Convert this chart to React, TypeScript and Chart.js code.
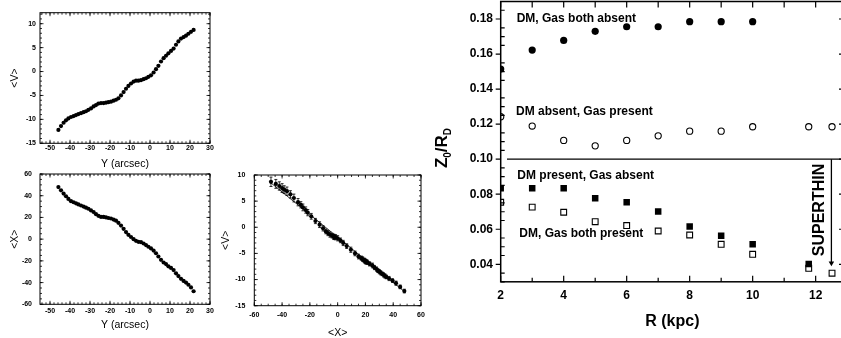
import React, { useEffect, useRef } from "react";
import { Chart, registerables } from "chart.js";

Chart.register(...registerables);

const FONT = "'Liberation Sans', Arial, Helvetica, sans-serif";

// ---------- Left panels: position along major axis Y (arcsec) ----------
const posY = [
  -45.8, -44.5, -43.2, -42, -40.8, -39.5, -38.2, -37, -35.8, -34.5,
  -33.2, -32, -30.8, -29.5, -28.2, -27, -25.8, -24.5, -23.2, -22,
  -20.8, -19.5, -18.2, -17, -15.8, -14.5, -13.2, -12, -10.8, -9.5,
  -8.2, -7, -5.8, -4.5, -3.2, -2, -0.8, 0.5, 1.8, 3,
  4.2, 5.5, 6.8, 8, 9.2, 10.5, 11.8, 13, 14.2, 15.5,
  16.8, 18, 19.2, 20.5, 21.8,
];
const meanV = [
  -12.2, -11.4, -10.7, -10.2, -9.8, -9.5, -9.3, -9.1, -8.9, -8.7,
  -8.5, -8.3, -8.0, -7.7, -7.3, -7.0, -6.7, -6.6, -6.6, -6.5,
  -6.4, -6.3, -6.1, -5.9, -5.6, -5.0, -4.3, -3.6, -3.0, -2.5,
  -2.1, -1.9, -1.9, -1.8, -1.6, -1.4, -1.1, -0.8, -0.2, 0.5,
  1.2, 2.1, 2.8, 3.3, 3.8, 4.3, 4.8, 5.6, 6.3, 6.9,
  7.2, 7.5, 7.9, 8.3, 8.7,
];
const meanX = [
  48, 45, 42, 39.5, 37, 35, 34, 33, 32, 31,
  30, 29, 28, 26.5, 25, 23, 21.5, 20.5, 20.5, 20,
  19.5, 19, 18, 17, 15, 12.5, 9.5, 6.5, 4, 2,
  0, -1.5, -2.5, -2.8, -4, -5.5, -7, -8.5, -10.5, -13,
  -16, -19, -21.5, -23, -25, -26.5, -28.5, -31.5, -34, -36.5,
  -38.5, -40, -42, -44.5, -48,
];
const errV = [
  0.35, 0.35, 0.4, 0.35, 0.4, 0.35, 0.4, 0.4, 0.35, 0.4,
  0.4, 0.35, 0.4, 0.4, 0.45, 0.4, 0.4, 0.45, 0.4, 0.4,
  0.45, 0.4, 0.45, 0.4, 0.45, 0.45, 0.5, 0.45, 0.5, 0.45,
  0.5, 0.5, 0.45, 0.5, 0.45, 0.5, 0.5, 0.45, 0.5, 0.55,
  0.5, 0.55, 0.6, 0.6, 0.65, 0.6, 0.7, 0.75, 0.7, 0.8,
  0.75, 0.85, 0.8, 0.85, 0.9,
];
const fitX = [-49, 49];
const fitV = [8.7, -12.5];

const p1XTicks = [-50, -40, -30, -20, -10, 0, 10, 20, 30];
const p1VTicks = [-15, -10, -5, 0, 5, 10];
const p2XTicks = [-60, -40, -20, 0, 20, 40, 60];
const p3XTicks = [-60, -40, -20, 0, 20, 40, 60];
const p3VTicks = [-15, -10, -5, 0, 5, 10];

// ---------- Right panel: Z0/RD vs R (kpc) ----------
const rBothAbsent = [2, 3, 4, 5, 6, 7, 8, 9, 10];
const zBothAbsent = [0.1514, 0.1623, 0.1678, 0.173, 0.1756, 0.1756, 0.1785, 0.1785, 0.1785];
const rGasOnly = [2, 3, 4, 5, 6, 7, 8, 9, 10, 11.78, 12.52];
const zGasOnly = [0.1242, 0.1189, 0.1107, 0.1076, 0.1107, 0.1133, 0.116, 0.116, 0.1185, 0.1185, 0.1185];
const rDmOnly = [2, 3, 4, 5, 6, 7, 8, 9, 10, 11.78];
const zDmOnly = [0.0834, 0.0834, 0.0834, 0.0777, 0.0754, 0.0701, 0.0615, 0.0563, 0.0514, 0.0402];
const rBothPresent = [2, 3, 4, 5, 6, 7, 8, 9, 10, 11.78, 12.52];
const zBothPresent = [0.0754, 0.0726, 0.0697, 0.0643, 0.0621, 0.059, 0.0567, 0.0514, 0.0457, 0.0377, 0.0349];
const sepR = [2.2, 12.9];
const sepZ = [0.1, 0.1];
const arrowR = [12.5, 12.5];
const arrowZ = [0.1, 0.0407];

const p4RTicks = [2, 4, 6, 8, 10, 12];
const p4ZTicks = [0.04, 0.06, 0.08, 0.1, 0.12, 0.14, 0.16, 0.18];

function range(a: number, b: number, step: number) {
  const out: number[] = [];
  for (let v = a; v <= b + 1e-9; v += step) out.push(+v.toFixed(6));
  return out;
}
const pts = (xs: number[], ys: number[]) => xs.map((x, i) => ({ x, y: ys[i] }));

// ---------- plugins ----------
const framePlugin = {
  id: "frameTicks",
  afterDraw(chart: any, _a: any, opts: any) {
    const { ctx, chartArea: a } = chart;
    const xs = chart.scales.x;
    const ys = chart.scales.y;
    ctx.save();
    ctx.strokeStyle = "#000";
    ctx.lineWidth = opts.frameWidth;
    ctx.strokeRect(a.left, a.top, a.right - a.left, a.bottom - a.top);
    ctx.lineWidth = opts.tickWidth;
    ctx.beginPath();
    for (const spec of opts.ticks) {
      for (const v of spec.values) {
        if (spec.side === "bottom" || spec.side === "top") {
          const p = xs.getPixelForValue(v);
          if (p < a.left - 0.5 || p > a.right + 0.5) continue;
          const base = spec.side === "bottom" ? a.bottom : a.top;
          const dir = spec.side === "bottom" ? -1 : 1;
          ctx.moveTo(p, base - dir * spec.out);
          ctx.lineTo(p, base + dir * spec.in);
        } else {
          const p = ys.getPixelForValue(v);
          if (p < a.top - 0.5 || p > a.bottom + 0.5) continue;
          const base = spec.side === "left" ? a.left : a.right;
          const dir = spec.side === "left" ? 1 : -1;
          ctx.moveTo(base - dir * spec.out, p);
          ctx.lineTo(base + dir * spec.in, p);
        }
      }
    }
    ctx.stroke();
    ctx.restore();
  },
};

const errorBarPlugin = {
  id: "errorBars",
  beforeDatasetsDraw(chart: any) {
    const { ctx } = chart;
    const ys = chart.scales.y;
    const meta = chart.getDatasetMeta(0);
    ctx.save();
    ctx.strokeStyle = "#000";
    ctx.lineWidth = 0.8;
    ctx.beginPath();
    meta.data.forEach((pt: any, i: number) => {
      const v = meanV[i];
      const e = errV[i];
      const y1 = ys.getPixelForValue(v + e);
      const y2 = ys.getPixelForValue(v - e);
      ctx.moveTo(pt.x, y1);
      ctx.lineTo(pt.x, y2);
      ctx.moveTo(pt.x - 1.5, y1);
      ctx.lineTo(pt.x + 1.5, y1);
      ctx.moveTo(pt.x - 1.5, y2);
      ctx.lineTo(pt.x + 1.5, y2);
    });
    ctx.stroke();
    ctx.restore();
  },
};

const annotatePlugin = {
  id: "annotate",
  afterDraw(chart: any) {
    const { ctx } = chart;
    ctx.save();
    ctx.fillStyle = "#000";
    ctx.textBaseline = "middle";
    ctx.textAlign = "left";
    ctx.font = `bold 12px ${FONT}`;
    ctx.fillText("DM, Gas both absent", 96.7, 18.3);
    ctx.fillText("DM absent, Gas present", 96, 112);
    ctx.fillText("DM present, Gas absent", 97.3, 175.3);
    ctx.fillText("DM, Gas both present", 99.3, 233.3);

    // SUPERTHIN (vertical)
    ctx.save();
    ctx.translate(399.5, 210);
    ctx.rotate(-Math.PI / 2);
    ctx.textAlign = "center";
    ctx.font = `bold 16px ${FONT}`;
    ctx.fillText("SUPERTHIN", 0, 0);
    ctx.restore();

    // Y axis title Z0/RD with subscripts
    ctx.save();
    ctx.translate(22, 148);
    ctx.rotate(-Math.PI / 2);
    const big = `bold 17px ${FONT}`;
    const small = `bold 10px ${FONT}`;
    const parts: [string, string, number][] = [
      ["Z", big, 0],
      ["0", small, 6],
      ["/R", big, 0],
      ["D", small, 6],
    ];
    let total = 0;
    for (const [t, f] of parts) {
      ctx.font = f;
      total += ctx.measureText(t).width;
    }
    let x = -total / 2;
    ctx.textAlign = "left";
    for (const [t, f, dy] of parts) {
      ctx.font = f;
      ctx.fillText(t, x, dy);
      x += ctx.measureText(t).width;
    }
    ctx.restore();
    ctx.restore();
  },
};

// ---------- helpers ----------
function axis(o: {
  min: number; max: number; size: number; ticks: number[]; pad: number;
  font: any; fmt?: (v: number) => string; title?: string; titleFont?: any; titlePad?: any;
}) {
  return {
    type: "linear",
    min: o.min,
    max: o.max,
    afterFit(s: any) {
      if (s.isHorizontal()) s.height = o.size;
      else s.width = o.size;
      s.paddingLeft = 0;
      s.paddingRight = 0;
      s.paddingTop = 0;
      s.paddingBottom = 0;
    },
    afterBuildTicks(s: any) {
      s.ticks = o.ticks.map((v) => ({ value: v }));
    },
    grid: { display: false, drawTicks: false },
    border: { display: false },
    ticks: {
      font: o.font,
      color: "#000",
      padding: o.pad,
      autoSkip: false,
      maxRotation: 0,
      minRotation: 0,
      callback: (v: number) => (o.fmt ? o.fmt(v) : String(v)),
    },
    title: o.title
      ? { display: true, text: o.title, color: "#000", font: o.titleFont, padding: o.titlePad }
      : { display: false },
  };
}

function baseOptions(padding: any, frame: any, scales: any) {
  return {
    responsive: false,
    animation: false,
    devicePixelRatio: 1,
    events: [],
    layout: { autoPadding: false, padding },
    plugins: { legend: { display: false }, tooltip: { enabled: false }, frameTicks: frame },
    scales,
  };
}

const smallTick = { size: 7, weight: "bold", family: FONT };
const smallTitle = { size: 10.5, family: FONT };

function smallFrame(xMajor: number[], xMinor: number[], yMajor: number[], yMinor: number[]) {
  return {
    frameWidth: 1,
    tickWidth: 0.8,
    ticks: [
      { side: "bottom", values: xMajor, in: 3.5, out: 0 },
      { side: "bottom", values: xMinor, in: 2, out: 0 },
      { side: "top", values: xMajor, in: 3.5, out: 0 },
      { side: "top", values: xMinor, in: 2, out: 0 },
      { side: "left", values: yMajor, in: 3.5, out: 0 },
      { side: "left", values: yMinor, in: 2, out: 0 },
      { side: "right", values: yMajor, in: 3.5, out: 0 },
      { side: "right", values: yMinor, in: 2, out: 0 },
    ],
  };
}

function dotSet(data: any[]) {
  return {
    data,
    pointRadius: 2.1,
    pointBackgroundColor: "#000",
    pointBorderWidth: 0,
    showLine: false,
    clip: 0,
  };
}

function config1(): any {
  return {
    type: "scatter",
    data: { datasets: [dotSet(pts(posY, meanV))] },
    options: baseOptions(
      { top: 12.7, right: 10, left: 0, bottom: 0 },
      smallFrame(p1XTicks, range(-54, 30, 2), p1VTicks, range(-15, 12, 1)),
      {
        x: axis({ min: -55, max: 30, size: 28.7, ticks: p1XTicks, pad: 1, font: smallTick,
          title: "Y (arcsec)", titleFont: smallTitle, titlePad: { top: 0, bottom: 1.5 } }),
        y: axis({ min: -15, max: 12.3, size: 40, ticks: p1VTicks, pad: 4, font: smallTick,
          title: "<V>", titleFont: smallTitle, titlePad: { top: 8.5, bottom: 0 } }),
      }
    ),
  };
}

function config2(): any {
  return {
    type: "scatter",
    data: { datasets: [dotSet(pts(posY, meanX))] },
    options: baseOptions(
      { top: 14, right: 10, left: 0, bottom: 0 },
      smallFrame(p1XTicks, range(-54, 30, 2), p2XTicks, range(-60, 60, 5)),
      {
        x: axis({ min: -55, max: 30, size: 33.7, ticks: p1XTicks, pad: 3, font: smallTick,
          title: "Y (arcsec)", titleFont: smallTitle, titlePad: { top: 0, bottom: 7 } }),
        y: axis({ min: -60, max: 60, size: 40, ticks: p2XTicks, pad: 8, font: smallTick,
          title: "<X>", titleFont: smallTitle, titlePad: { top: 8.5, bottom: 0 } }),
      }
    ),
  };
}

function config3(): any {
  return {
    type: "scatter",
    data: {
      datasets: [
        dotSet(pts(meanX, meanV)),
        {
          data: pts(fitX, fitV),
          showLine: true,
          borderColor: "#000",
          borderWidth: 0.8,
          pointRadius: 0,
          clip: 0,
        },
      ],
    },
    options: baseOptions(
      { top: 15, right: 29, left: 0, bottom: 0 },
      smallFrame(p3XTicks, range(-60, 60, 5), p3VTicks, range(-15, 10, 1)),
      {
        x: axis({ min: -60, max: 60, size: 36.3, ticks: p3XTicks, pad: 5, font: smallTick,
          title: "<X>", titleFont: smallTitle, titlePad: { top: 0, bottom: 2.3 } }),
        y: axis({ min: -15, max: 10, size: 34.3, ticks: p3VTicks, pad: 9, font: smallTick,
          title: "<V>", titleFont: smallTitle, titlePad: { top: 0.2, bottom: 0 } }),
      }
    ),
    plugins: [errorBarPlugin],
  };
}

function config4(): any {
  const bigTick = { size: 12, weight: "bold", family: FONT };
  const minorZ = range(0.03, 0.19, 0.005).filter((v) => !p4ZTicks.some((m) => Math.abs(m - v) < 1e-6));
  return {
    type: "scatter",
    data: {
      datasets: [
        {
          data: pts(rBothAbsent, zBothAbsent),
          pointStyle: "circle",
          pointRadius: 3.6,
          pointBackgroundColor: "#000",
          pointBorderColor: "#000",
          pointBorderWidth: 0,
          clip: 0,
        },
        {
          data: pts(rGasOnly, zGasOnly),
          pointStyle: "circle",
          pointRadius: 3.1,
          pointBackgroundColor: "#fff",
          pointBorderColor: "#000",
          pointBorderWidth: 1.1,
          clip: 0,
        },
        {
          data: pts(rDmOnly, zDmOnly),
          pointStyle: "rect",
          pointRadius: 4.6,
          pointBackgroundColor: "#000",
          pointBorderColor: "#000",
          pointBorderWidth: 0,
          clip: 0,
        },
        {
          data: pts(rBothPresent, zBothPresent),
          pointStyle: "rect",
          pointRadius: 4.1,
          pointBackgroundColor: "#fff",
          pointBorderColor: "#000",
          pointBorderWidth: 1.1,
          clip: 0,
        },
        {
          data: pts(arrowR, arrowZ),
          showLine: true,
          borderColor: "#000",
          borderWidth: 1.3,
          pointStyle: "triangle",
          pointRotation: 180,
          pointRadius: [0, 3.2],
          pointBackgroundColor: "#000",
          pointBorderWidth: 0,
          clip: 0,
        },
        {
          data: pts(sepR, sepZ),
          showLine: true,
          borderColor: "#000",
          borderWidth: 1.3,
          pointRadius: 0,
          clip: 0,
        },
      ],
    },
    options: baseOptions(
      { top: 1.5, right: 6, left: 0, bottom: 0 },
      {
        frameWidth: 1.5,
        tickWidth: 1.2,
        ticks: [
          { side: "bottom", values: p4RTicks, in: 6, out: 0 },
          { side: "bottom", values: [3, 5, 7, 9, 11], in: 4, out: 0 },
          { side: "top", values: range(2, 12, 1), in: 6, out: 0 },
          { side: "left", values: p4ZTicks, in: 0, out: 5 },
          { side: "left", values: minorZ, in: 4, out: 0 },
          { side: "right", values: p4ZTicks, in: 5, out: 0 },
        ],
      },
      {
        x: axis({ min: 2, max: 12.9, size: 56.2, ticks: p4RTicks, pad: 6.3, font: bigTick,
          title: "R (kpc)", titleFont: { size: 16, weight: "bold", family: FONT }, titlePad: { top: 0, bottom: 6.7 } }),
        y: axis({ min: 0.03, max: 0.19, size: 80.7, ticks: p4ZTicks, pad: 7.7, font: bigTick,
          fmt: (v) => v.toFixed(2) }),
      }
    ),
    plugins: [annotatePlugin],
  };
}

function withFrame(cfg: any) {
  cfg.plugins = [...(cfg.plugins || []), framePlugin];
  return cfg;
}

export default function App() {
  const r1 = useRef<HTMLCanvasElement>(null);
  const r2 = useRef<HTMLCanvasElement>(null);
  const r3 = useRef<HTMLCanvasElement>(null);
  const r4 = useRef<HTMLCanvasElement>(null);

  useEffect(() => {
    const charts = [
      new Chart(r1.current as HTMLCanvasElement, withFrame(config1())),
      new Chart(r2.current as HTMLCanvasElement, withFrame(config2())),
      new Chart(r3.current as HTMLCanvasElement, withFrame(config3())),
      new Chart(r4.current as HTMLCanvasElement, withFrame(config4())),
    ];
    return () => charts.forEach((c) => c.destroy());
  }, []);

  const cs = (left: number, top: number, w: number, h: number): React.CSSProperties => ({
    position: "absolute",
    left,
    top,
    width: w,
    height: h,
  });

  return (
    <div
      style={{
        position: "fixed",
        left: 0,
        top: 0,
        width: 841,
        height: 338,
        overflow: "hidden",
        background: "#fff",
      }}
    >
      <canvas ref={r1} width={220} height={172} style={cs(0, 0, 220, 172)} />
      <canvas ref={r2} width={220} height={178} style={cs(0, 160, 220, 178)} />
      <canvas ref={r3} width={230} height={182} style={cs(220, 160, 230, 182)} />
      <canvas ref={r4} width={430} height={338} style={cs(420, 0, 430, 338)} />
    </div>
  );
}
